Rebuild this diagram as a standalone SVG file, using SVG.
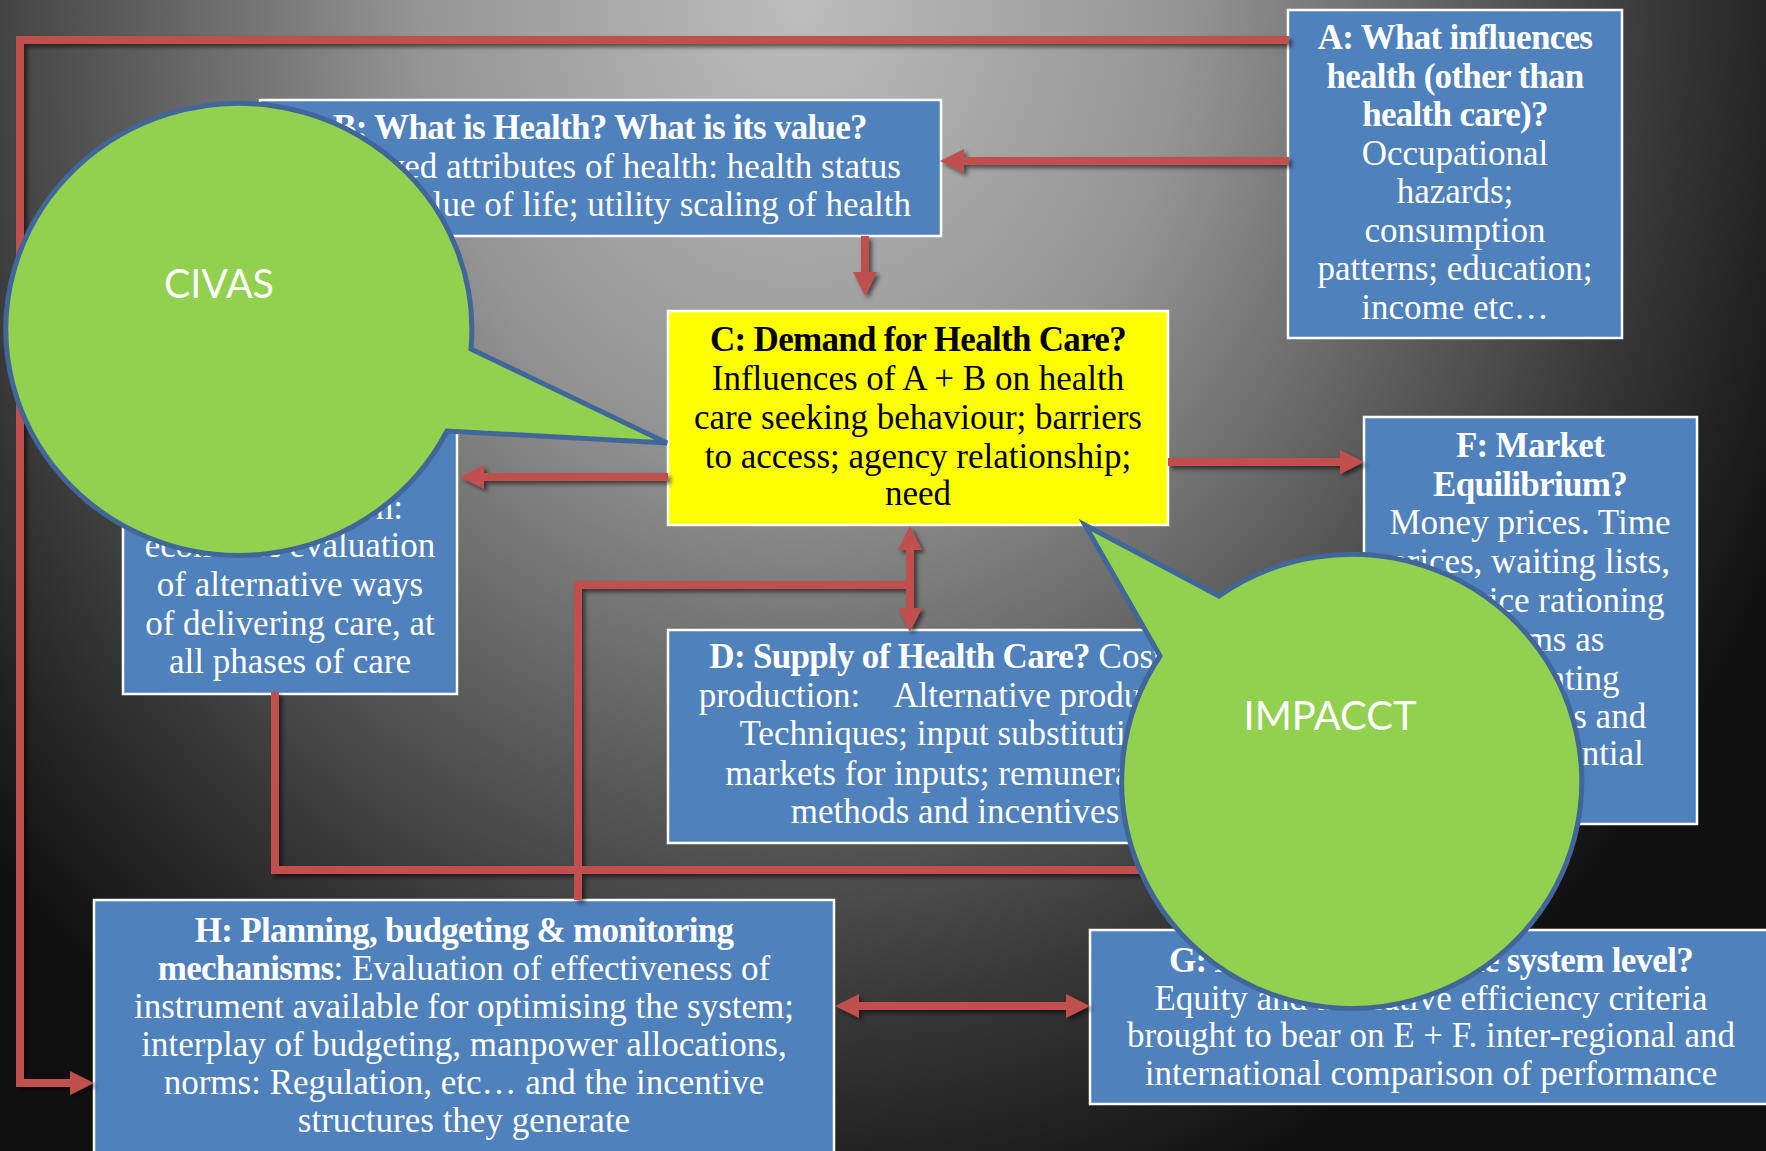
<svg xmlns="http://www.w3.org/2000/svg" width="1766" height="1151" viewBox="0 0 1766 1151">
  <defs>
    <radialGradient id="bg" gradientUnits="userSpaceOnUse" cx="800" cy="0" r="1280" gradientTransform="translate(800 0) scale(0.85 1) translate(-800 0)">
      <stop offset="0" stop-color="#bdbdbd"/>
      <stop offset="0.35" stop-color="#959595"/>
      <stop offset="0.6" stop-color="#606060"/>
      <stop offset="0.8" stop-color="#363636"/>
      <stop offset="1" stop-color="#101010"/>
    </radialGradient>
    <marker id="head" markerUnits="userSpaceOnUse" markerWidth="24" markerHeight="24" refX="14" refY="12" orient="auto-start-reverse" overflow="visible">
      <path d="M0,0 L24,12 L0,24 Z" fill="#c0504d"/>
    </marker>
    <filter id="shadow" x="-5%" y="-5%" width="110%" height="110%">
      <feDropShadow dx="3" dy="3" stdDeviation="2" flood-color="#000" flood-opacity="0.55"/>
    </filter>
    <style>
      .box { fill: #4f81bd; stroke: #ffffff; stroke-width: 2.5; }
      .yel { fill: #ffff00; stroke: #ffffff; stroke-width: 2.5; }
      .t { font-family: "Liberation Serif", "Times New Roman", serif; font-size: 35px; fill: #ffffff; text-anchor: middle; }
      .b { font-weight: bold; letter-spacing: -0.7px; }
      .k { fill: #000000; }
      .r { text-anchor: end; }
      .wire { fill: none; stroke: #c0504d; stroke-width: 8; stroke-linejoin: miter; }
      .bubble { fill: #92d050; stroke: #41679a; stroke-width: 5; stroke-linejoin: miter; }
      .lbl { font-family: Lato, "Liberation Sans", sans-serif; font-size: 40px; fill: #ffffff; text-anchor: middle; }
    </style>
  </defs>

  <!-- backdrop -->
  <rect x="0" y="0" width="1766" height="1151" fill="url(#bg)"/>

  <!-- A -->
  <g id="node-a">
    <rect class="box" x="1288" y="10" width="334" height="328"/>
    <text class="t b" x="1455" y="49">A: What influences</text>
    <text class="t b" x="1455" y="87.5">health (other than</text>
    <text class="t b" x="1455" y="126">health care)?</text>
    <text class="t" x="1455" y="164.5">Occupational</text>
    <text class="t" x="1455" y="203">hazards;</text>
    <text class="t" x="1455" y="241.5">consumption</text>
    <text class="t" x="1455" y="280">patterns; education;</text>
    <text class="t" x="1455" y="318.5">income etc…</text>
  </g>

  <!-- B -->
  <g id="node-b">
    <rect class="box" x="260" y="100" width="681" height="136"/>
    <text class="t b" x="600" y="139">B: What is Health? What is its value?</text>
    <text class="t" x="600" y="178">Perceived attributes of health: health status</text>
    <text class="t r" x="911" y="216">and value of life; utility scaling of health</text>
  </g>

  <!-- C -->
  <g id="node-c">
    <rect class="yel" x="668" y="311" width="500" height="214"/>
    <text class="t b k" x="918" y="351">C: Demand for Health Care?</text>
    <text class="t k" x="918" y="390">Influences of A + B on health</text>
    <text class="t k" x="918" y="429">care seeking behaviour; barriers</text>
    <text class="t k" x="918" y="468">to access; agency relationship;</text>
    <text class="t k" x="918" y="505">need</text>
  </g>

  <!-- D -->
  <g id="node-d">
    <rect class="box" x="668" y="630" width="574" height="213"/>
    <text class="t" x="955" y="668"><tspan class="b">D: Supply of Health Care?</tspan> Cost of</text>
    <text class="t" x="955" y="707">production:&#160;&#160;&#160; Alternative production</text>
    <text class="t" x="955" y="745">Techniques; input substitution;</text>
    <text class="t" x="955" y="785">markets for inputs; remuneration</text>
    <text class="t" x="955" y="823">methods and incentives</text>
  </g>

  <!-- E -->
  <g id="node-e">
    <rect class="box" x="123" y="378" width="334" height="316"/>
    <text class="t b" x="290" y="441.5">E: Micro-economic</text>
    <text class="t b" x="290" y="480">evaluation at</text>
    <text class="t r" x="403" y="518.5">cost minimisation:</text>
    <text class="t" x="290" y="557">economic evaluation</text>
    <text class="t" x="290" y="596">of alternative ways</text>
    <text class="t" x="290" y="635">of delivering care, at</text>
    <text class="t" x="290" y="673">all phases of care</text>
  </g>

  <!-- F -->
  <g id="node-f">
    <rect class="box" x="1364" y="417" width="333" height="407"/>
    <text class="t b" x="1530" y="457">F: Market</text>
    <text class="t b" x="1530" y="496">Equilibrium?</text>
    <text class="t" x="1530" y="534">Money prices. Time</text>
    <text class="t" x="1530" y="573">prices, waiting lists,</text>
    <text class="t" x="1530" y="612">non-price rationing</text>
    <text class="t" x="1530" y="651">systems as</text>
    <text class="t" x="1530" y="690">equilibrating</text>
    <text class="t" x="1530" y="728">mechanisms and</text>
    <text class="t" x="1530" y="765">their differential</text>
  </g>

  <!-- G -->
  <g id="node-g">
    <rect class="box" x="1090" y="930" width="700" height="174"/>
    <text class="t b" x="1431" y="972">G: Evaluation at whole system level?</text>
    <text class="t" x="1431" y="1010">Equity and allocative efficiency criteria</text>
    <text class="t" x="1431" y="1047">brought to bear on E + F. inter-regional and</text>
    <text class="t" x="1431" y="1085">international comparison of performance</text>
  </g>

  <!-- H -->
  <g id="node-h">
    <rect class="box" x="94" y="900" width="740" height="280"/>
    <text class="t b" x="464" y="942">H: Planning, budgeting &amp; monitoring</text>
    <text class="t" x="464" y="980"><tspan class="b">mechanisms</tspan>: Evaluation of effectiveness of</text>
    <text class="t" x="464" y="1018">instrument available for optimising the system;</text>
    <text class="t" x="464" y="1056">interplay of budgeting, manpower allocations,</text>
    <text class="t" x="464" y="1094">norms: Regulation, etc… and the incentive</text>
    <text class="t" x="464" y="1132">structures they generate</text>
  </g>

  <!-- connectors -->
  <g id="connectors" filter="url(#shadow)">
    <path class="wire" d="M1289,40 H20 V1083 H84" marker-end="url(#head)"/>
    <path class="wire" d="M1289,161 H950" marker-end="url(#head)"/>
    <path class="wire" d="M865,236 V286" marker-end="url(#head)"/>
    <path class="wire" d="M668,477 H470" marker-end="url(#head)"/>
    <path class="wire" d="M1168,462 H1354" marker-end="url(#head)"/>
    <path class="wire" d="M910,536 V622" marker-start="url(#head)" marker-end="url(#head)"/>
    <path class="wire" d="M910,585 H578 V900"/>
    <path class="wire" d="M275,692 V870 H1350"/>
    <path class="wire" d="M845,1006 H1080" marker-start="url(#head)" marker-end="url(#head)"/>
  </g>

  <!-- callouts -->
  <g id="callout-civas">
    <path class="bubble" d="M471,349 L667,443 L447,431 A233,226 0 1 1 471,349 Z"/>
    <text class="lbl" x="219" y="298" textLength="110" lengthAdjust="spacingAndGlyphs">CIVAS</text>
  </g>
  <g id="callout-impacct">
    <path class="bubble" d="M1219,596 L1085,525 L1160,656 A230,227 0 1 0 1219,596 Z"/>
    <text class="lbl" x="1330" y="730" textLength="173" lengthAdjust="spacingAndGlyphs">IMPACCT</text>
  </g>
</svg>
